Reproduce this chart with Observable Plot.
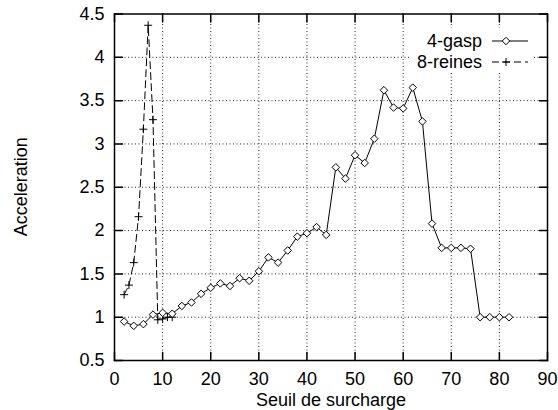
<!DOCTYPE html>
<html>
<head>
<meta charset="utf-8">
<script src="https://cdn.jsdelivr.net/npm/d3@7"></script>
<script src="https://cdn.jsdelivr.net/npm/@observablehq/plot@0.6"></script>
<style>
  html, body { margin: 0; padding: 0; background: #fff; }
  #chart svg { display: block; }
</style>
</head>
<body>
<div id="chart"></div>
<script>
// ---- data ----
const gaspX = [2,4,6,8,10,12,14,16,18,20,22,24,26,28,30,32,34,36,38,40,42,44,46,48,50,52,54,56,58,60,62,64,66,68,70,72,74,76,78,80,82];
const gaspY = [0.95,0.90,0.92,1.03,1.05,1.04,1.13,1.17,1.27,1.34,1.39,1.36,1.45,1.42,1.53,1.69,1.63,1.77,1.93,1.97,2.04,1.95,2.73,2.60,2.87,2.78,3.06,3.62,3.42,3.41,3.65,3.26,2.08,1.80,1.80,1.80,1.79,1.00,1.00,1.00,1.00];
const reinesX = [2,3,4,5,6,7,8,9,10,11,12];
const reinesY = [1.26,1.37,1.63,2.16,3.17,4.37,3.28,0.97,0.98,1.00,1.00];
const xTicks = [0,10,20,30,40,50,60,70,80,90];
const yTicks = [0.5,1,1.5,2,2.5,3,3.5,4,4.5];
const seriesNames = ["4-gasp", "8-reines"];
const xTitle = "Seuil de surcharge";
const yTitle = "Acceleration";

const gasp = gaspX.map((x, i) => ({x, y: gaspY[i]}));
const reines = reinesX.map((x, i) => ({x, y: reinesY[i]}));

const tickShape = {draw(ctx, l) { ctx.moveTo(0, 0); ctx.lineTo(0, -l); }};
const font = "'Liberation Sans', Arial, Helvetica, sans-serif";

const plot = Plot.plot({
  width: 558,
  height: 410,
  marginLeft: 114,
  marginRight: 11,
  marginTop: 13.5,
  marginBottom: 50,
  style: {fontFamily: font, fontSize: "18px", background: "white", color: "black", overflow: "visible"},
  x: {domain: [0, 90], ticks: xTicks},
  y: {domain: [0.5, 4.5], ticks: yTicks},
  marks: [
    Plot.gridX(xTicks.slice(1, -1), {stroke: "black", strokeOpacity: 0.85, strokeDasharray: "1,2.5"}),
    Plot.gridY(yTicks.slice(1, -1), {stroke: "black", strokeOpacity: 0.85, strokeDasharray: "1,2.5"}),
    // inward ticks on all four sides
    Plot.vector(xTicks, {x: d => d, frameAnchor: "bottom", length: 8, rotate: 0, shape: tickShape, anchor: "start", stroke: "black"}),
    Plot.vector(xTicks, {x: d => d, frameAnchor: "top", length: 8, rotate: 180, shape: tickShape, anchor: "start", stroke: "black"}),
    Plot.vector(yTicks, {y: d => d, frameAnchor: "left", length: 8, rotate: 90, shape: tickShape, anchor: "start", stroke: "black"}),
    Plot.vector(yTicks, {y: d => d, frameAnchor: "right", length: 8, rotate: -90, shape: tickShape, anchor: "start", stroke: "black"}),
    Plot.axisX({ticks: xTicks, tickSize: 0, tickPadding: 12, label: null, fontSize: 18}),
    Plot.axisY({ticks: yTicks, tickSize: 0, tickPadding: 10, label: null, fontSize: 18, tickFormat: d => String(d)}),
    Plot.text([xTitle], {frameAnchor: "bottom", dy: 40, lineAnchor: "middle", fontSize: 18, text: d => d}),
    // series
    Plot.line(reines, {x: "x", y: "y", stroke: "black", strokeWidth: 1, strokeDasharray: "7,4"}),
    Plot.dot(reines, {x: "x", y: "y", symbol: "plus", r: 2.7, stroke: "black", strokeWidth: 1}),
    Plot.line(gasp, {x: "x", y: "y", stroke: "black", strokeWidth: 1}),
    Plot.dot(gasp, {x: "x", y: "y", symbol: "diamond2", r: 3.4, fill: "white", stroke: "black", strokeWidth: 1}),
    Plot.frame({stroke: "black", strokeWidth: 1.5})
  ]
});

const svg = d3.select(plot);

// ---- y title (rotated) ----
svg.append("text")
  .attr("transform", "translate(21,186.75) rotate(-90)")
  .attr("text-anchor", "middle").attr("dy", "0.32em")
  .attr("font-family", font).attr("font-size", 18).attr("fill", "black")
  .text(yTitle);

// ---- legend (inside, top right) ----
const lg = svg.append("g").attr("font-family", font).attr("font-size", 18);
lg.append("rect").attr("x", 409).attr("y", 28).attr("width", 124).attr("height", 43).attr("fill", "white");
const rows = [
  {name: seriesNames[0], cy: 41, dash: null, sym: d3.symbolDiamond2, fill: "white", size: Math.PI * 3.4 * 3.4},
  {name: seriesNames[1], cy: 62, dash: "7,4", sym: d3.symbolPlus, fill: "none", size: Math.PI * 2.7 * 2.7}
];
rows.forEach(r => {
  lg.append("text").attr("x", 482).attr("y", r.cy + 5.5).attr("text-anchor", "end").attr("fill", "black").text(r.name);
  lg.append("line").attr("x1", 492).attr("x2", 528).attr("y1", r.cy).attr("y2", r.cy)
    .attr("stroke", "black").attr("stroke-dasharray", r.dash);
  lg.append("path").attr("d", d3.symbol(r.sym, r.size)()).attr("transform", `translate(506,${r.cy})`)
    .attr("fill", r.fill).attr("stroke", "black");
});

document.getElementById("chart").appendChild(plot);
</script>
</body>
</html>
